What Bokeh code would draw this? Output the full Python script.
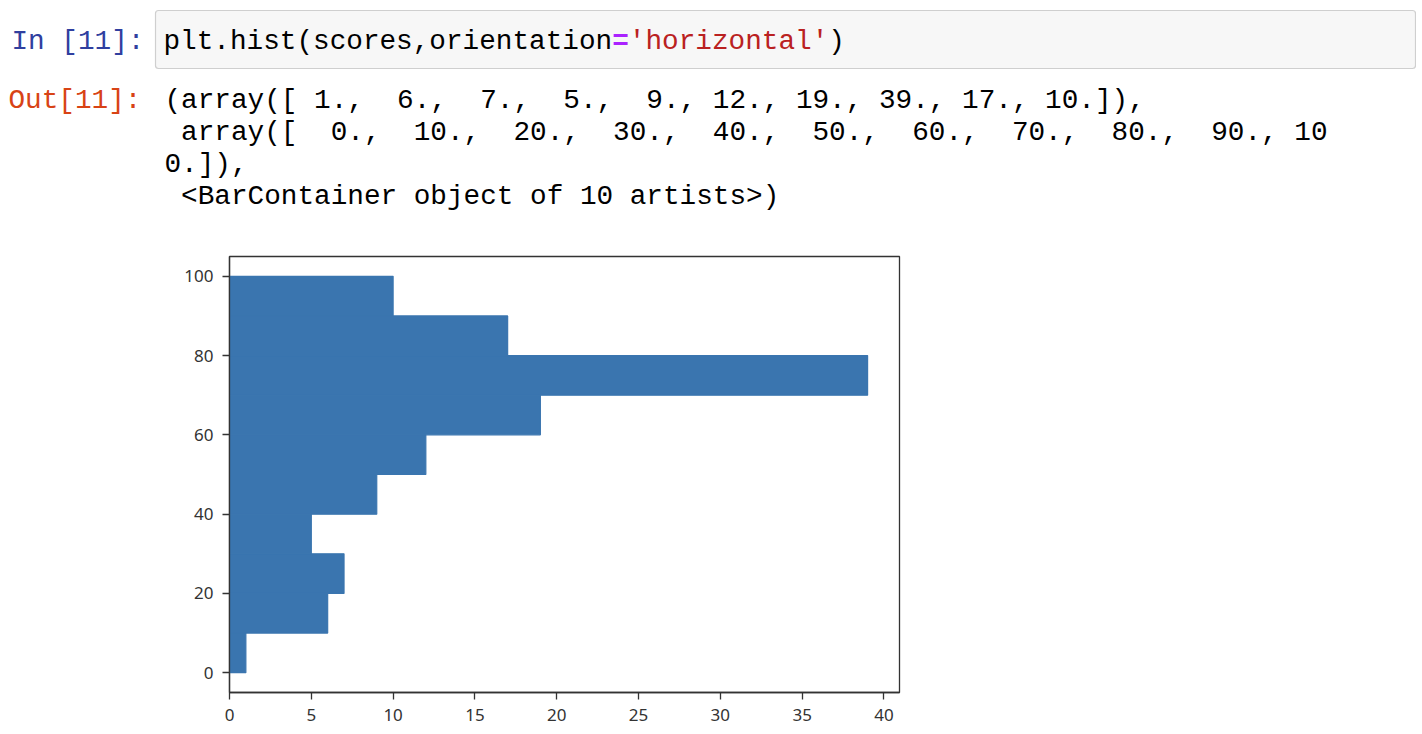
from bokeh.plotting import figure
from bokeh.models import Range1d, FixedTicker
from bokeh.core.properties import value
from bokeh.embed import file_html
from bokeh.resources import INLINE

# ---- data ----
counts = [1, 6, 7, 5, 9, 12, 19, 39, 17, 10]
bin_edges = [0, 10, 20, 30, 40, 50, 60, 70, 80, 90, 100]
x_ticks = [0, 5, 10, 15, 20, 25, 30, 35, 40]
y_ticks = [0, 20, 40, 60, 80, 100]

in_prompt = "In [11]:"
out_prompt = "Out[11]:"
code_parts = ["plt.hist(scores,orientation", "=", "'horizontal'", ")"]
out_lines = [
    "(array([ 1.,  6.,  7.,  5.,  9., 12., 19., 39., 17., 10.]),",
    " array([  0.,  10.,  20.,  30.,  40.,  50.,  60.,  70.,  80.,  90., 10",
    "0.]),",
    " <BarContainer object of 10 artists>)",
]

NB = "\u00a0"  # keep runs of spaces visible in SVG text


def keep_spaces(s):
    return s.replace(" ", NB)


MONO = "Liberation Mono"
FS = "27.7px"
CW = 16.62  # monospace character advance at FS

# ---- header (notebook cell) ----
hdr = figure(width=1416, height=248, output_backend="svg", toolbar_location=None,
             x_range=Range1d(0, 1416), y_range=Range1d(248, 0),
             min_border=0, outline_line_color=None)
hdr.axis.visible = False
hdr.grid.visible = False

hdr.quad(left=[155], right=[1415], top=[10], bottom=[68],
         fill_color="#f7f7f7", line_color="#cfcfcf", line_width=1.2,
         border_radius=3)

hdr.text(x=[11], y=[41], text=[keep_spaces(in_prompt)], text_font=value(MONO),
         text_font_size=FS, text_color="#303F9F", text_baseline="alphabetic")
hdr.text(x=[8], y=[100], text=[out_prompt], text_font=value(MONO),
         text_font_size=FS, text_color="#D84315", text_baseline="alphabetic")

code_colors = ["#000000", "#AA22FF", "#BA2121", "#000000"]
code_styles = ["normal", "bold", "normal", "normal"]
cx = 163.0
for part, col, sty in zip(code_parts, code_colors, code_styles):
    hdr.text(x=[cx], y=[41], text=[part], text_font=value(MONO),
             text_font_size=FS, text_color=col, text_font_style=sty,
             text_baseline="alphabetic")
    cx += CW * len(part)

out_base = [100, 132, 164, 196]
hdr.text(x=[164] * len(out_lines), y=out_base,
         text=[keep_spaces(s) for s in out_lines],
         text_font=value(MONO), text_font_size=FS, text_color="#000000",
         text_baseline="alphabetic")

# ---- histogram ----
p = figure(frame_width=670, frame_height=436, output_backend="svg",
           toolbar_location=None,
           x_range=Range1d(0, 40.95), y_range=Range1d(-5, 105),
           min_border_left=229, min_border_right=20,
           min_border_top=8, min_border_bottom=34,
           background_fill_color="white",
           outline_line_color="#333333", outline_line_width=1.3)
p.grid.visible = False

p.quad(left=[0] * len(counts), right=counts,
       bottom=bin_edges[:-1], top=bin_edges[1:],
       fill_color="#3A75AF", line_color="#3A75AF", line_width=1.2)

p.xaxis.ticker = FixedTicker(ticks=x_ticks)
p.yaxis.ticker = FixedTicker(ticks=y_ticks)
for ax in (p.xaxis, p.yaxis):
    ax.minor_tick_line_color = None
    ax.major_tick_in = 0
    ax.major_tick_out = 7
    ax.major_tick_line_color = "#333333"
    ax.major_tick_line_width = 1.3
    ax.axis_line_color = "#333333"
    ax.axis_line_width = 1.3
    ax.major_label_text_font = "Noto Sans"
    ax.major_label_text_font_size = "17px"
    ax.major_label_text_color = "#333333"
p.xaxis.major_label_standoff = 9
p.yaxis.major_label_standoff = 9

open("out.html", "w").write(file_html([hdr, p], INLINE))
